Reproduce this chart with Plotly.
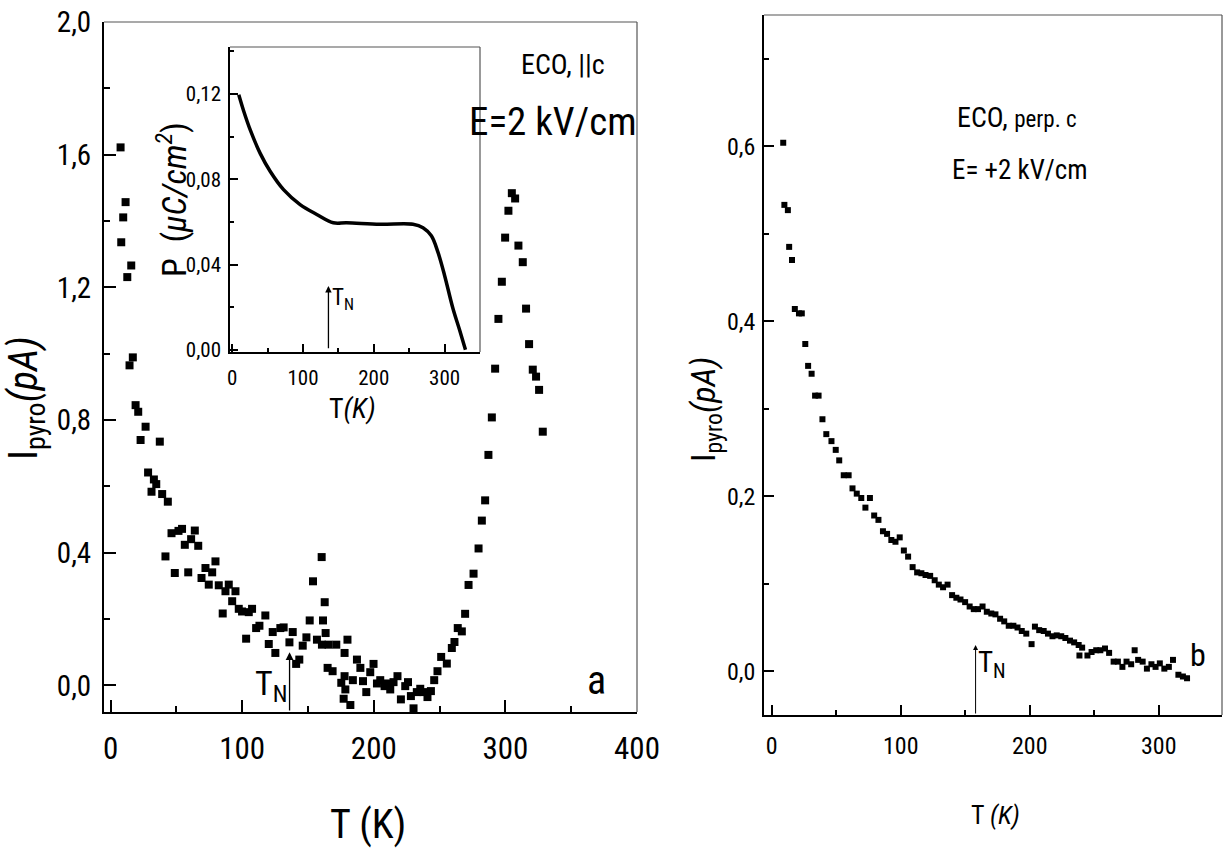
import plotly.graph_objects as go

# ---------------- data ----------------
# Panel a: pyroelectric current, E || c
T_a = [7.6, 8.1, 9.6, 11.4, 12.7, 15.7, 14.4, 16.9, 19.0, 21.0, 22.8, 26.6, 37.4, 28.5, 31.1, 32.9, 34.7,
       39.2, 43.5, 41.7, 46.3, 48.8, 51.6, 54.3, 56.4, 59.0, 61.2, 64.0, 66.6, 69.1, 72.1, 74.6, 77.2,
       79.7, 82.2, 85.2, 87.3, 89.8, 92.4, 94.9, 97.4, 99.9, 103.0, 105.0, 107.5, 110.6, 113.1, 117.6,
       120.2, 123.2, 125.2, 129.0, 131.5, 135.9, 138.4, 141.0, 143.4, 146.0, 148.8, 151.3, 153.8, 156.8,
       160.4, 160.6, 161.4, 162.7, 163.4, 164.9, 165.6, 168.7, 171.5, 175.3, 177.1, 177.8, 177.8, 178.4,
       180.0, 182.2, 184.1, 187.2, 189.8, 191.8, 194.3, 197.3, 199.8, 202.4, 204.9, 208.2, 210.5, 212.5,
       215.0, 218.0, 220.6, 223.9, 226.0, 228.2, 230.2, 232.7, 235.3, 237.8, 240.8, 243.4, 245.9, 248.4,
       251.2, 255.5, 259.3, 261.3, 263.8, 266.9, 269.4, 272.0, 275.8, 279.6, 282.1, 284.6, 287.1, 289.7,
       292.2, 294.7, 297.3, 299.8, 302.3, 304.9, 307.4, 309.9, 313.2, 315.7, 318.0, 320.8, 323.3, 325.6,
       328.4]
I_a = [1.622, 1.336, 1.411, 1.457, 1.231, 1.266, 0.965, 0.989, 0.845, 0.825, 0.740, 0.780, 0.735, 0.642,
       0.584, 0.621, 0.607, 0.577, 0.554, 0.389, 0.459, 0.339, 0.466, 0.472, 0.424, 0.341, 0.441, 0.467,
       0.421, 0.324, 0.354, 0.304, 0.341, 0.374, 0.302, 0.217, 0.284, 0.304, 0.254, 0.284, 0.231, 0.223,
       0.141, 0.221, 0.231, 0.173, 0.180, 0.211, 0.125, 0.161, 0.098, 0.173, 0.175, 0.130, 0.161, 0.065,
       0.078, 0.120, 0.145, 0.196, 0.314, 0.138, 0.387, 0.123, 0.196, 0.251, 0.158, 0.053, 0.123, 0.043,
       0.123, 0.008, -0.040, 0.098, 0.028, -0.012, 0.138, -0.059, 0.016, 0.078, 0.053, 0.013, -0.020,
       0.040, 0.065, 0.006, 0.016, -0.002, 0.006, -0.012, 0.010, 0.028, -0.042, -0.002, 0.010, -0.032,
       -0.069, -0.020, -0.010, -0.020, -0.035, -0.017, 0.016, 0.043, 0.086, 0.066, 0.113, 0.131, 0.173,
       0.163, 0.216, 0.303, 0.337, 0.413, 0.497, 0.558, 0.695, 0.808, 0.955, 1.105, 1.217, 1.350, 1.431,
       1.484, 1.468, 1.326, 1.276, 1.136, 1.029, 0.952, 0.931, 0.891, 0.765]

# Inset: polarization P(T)
T_ins = [9.4, 16.3, 25.7, 39.8, 53.9, 72.6, 96.0, 119.5, 142.9, 161.7, 208.6, 255.4, 269.5, 281.3,
         290.6, 300.0, 311.7, 321.1, 329.5]
P_ins = [0.1196, 0.112, 0.103, 0.092, 0.0836, 0.0751, 0.0681, 0.0635, 0.0596, 0.0596, 0.0589, 0.0589,
         0.0573, 0.0535, 0.0458, 0.0349, 0.0195, 0.0094, 0.0001]

# Panel b: pyroelectric current, E perp c
T_b = [8.9, 9.8, 12.5, 13.5, 15.7, 17.9, 21.1, 23.3, 26.0, 28.2, 30.9, 33.6, 36.3, 39.3, 42.3, 46.3, 49.6,
       52.3, 55.8, 59.6, 62.6, 65.9, 69.4, 72.6, 76.1, 79.4, 82.7, 86.2, 89.4, 92.7, 95.9, 99.2, 102.4,
       105.7, 109.2, 112.7, 116.0, 119.2, 122.8, 126.3, 129.5, 132.8, 136.3, 139.8, 143.1, 146.3, 149.9,
       153.4, 156.6, 159.9, 163.4, 166.7, 170.2, 173.4, 177.0, 180.2, 183.7, 187.3, 190.5, 193.8, 197.3,
       201.4, 204.0, 207.3, 210.8, 214.1, 217.6, 220.9, 224.4, 227.6, 231.2, 234.4, 237.9, 240.6, 238.5,
       244.7, 247.9, 251.5, 254.7, 258.3, 261.5, 265.0, 268.3, 271.8, 275.0, 278.6, 281.3, 284.0, 287.5,
       290.8, 294.3, 297.5, 300.8, 304.3, 307.8, 311.0, 315.2, 318.7, 321.9]
I_b = [0.604, 0.533, 0.527, 0.485, 0.470, 0.414, 0.409, 0.409, 0.374, 0.349, 0.340, 0.315, 0.315, 0.288,
       0.271, 0.263, 0.253, 0.241, 0.224, 0.224, 0.209, 0.203, 0.198, 0.187, 0.198, 0.178, 0.173, 0.160,
       0.157, 0.150, 0.148, 0.153, 0.138, 0.131, 0.119, 0.113, 0.112, 0.110, 0.109, 0.104, 0.099, 0.096,
       0.099, 0.087, 0.084, 0.082, 0.079, 0.074, 0.071, 0.071, 0.074, 0.068, 0.066, 0.065, 0.060, 0.057,
       0.052, 0.052, 0.050, 0.046, 0.043, 0.031, 0.051, 0.047, 0.046, 0.043, 0.040, 0.041, 0.040, 0.038,
       0.035, 0.033, 0.030, 0.027, 0.018, 0.018, 0.022, 0.024, 0.024, 0.026, 0.021, 0.011, 0.011, 0.005,
       0.011, 0.008, 0.024, 0.013, 0.011, 0.003, 0.008, 0.005, 0.009, 0.003, 0.005, 0.013, -0.004, -0.006,
       -0.008]

TN_a = 136
TN_b = 158

W, H = 1225, 850
FONT = "Roboto Condensed, Liberation Sans Narrow, Arial Narrow, Liberation Sans, Arial, sans-serif"

def px(x):
    return x / W

def py(y):
    return 1 - y / H

fig = go.Figure()

fig.add_trace(go.Scatter(x=T_a, y=I_a, mode="markers", xaxis="x", yaxis="y",
                         marker=dict(symbol="square", size=8, color="black"), showlegend=False))
fig.add_trace(go.Scatter(x=T_ins, y=P_ins, mode="lines", xaxis="x2", yaxis="y2",
                         line=dict(color="black", width=3.5, shape="spline"), showlegend=False))
fig.add_trace(go.Scatter(x=T_b, y=I_b, mode="markers", xaxis="x3", yaxis="y3",
                         marker=dict(symbol="square", size=6, color="black"), showlegend=False))

def ax(domain, rng, dtick, mdtick, fs, anchor, fmt=None, ticklen=12, mlen=6, lw=2, standoff=8):
    d = dict(domain=domain, range=rng, dtick=dtick, tick0=0, ticks="inside", ticklen=ticklen,
             tickwidth=1.5, tickcolor="black", showline=True, linecolor="black", linewidth=lw,
             mirror=False, showgrid=False, zeroline=False, anchor=anchor, automargin=False,
             ticklabelstandoff=standoff,
             tickfont=dict(family=FONT, size=fs, color="black"),
             minor=dict(dtick=mdtick, tick0=0, ticks="inside", ticklen=mlen, tickcolor="black",
                        tickwidth=1.5, showgrid=False))
    if fmt:
        d["tickformat"] = fmt
    return d

# domains (pixel boxes)
A = (104, 637, 22, 712)
B = (230, 480, 47, 352)
C = (764, 1222, 15, 715)

def dom(b):
    return [px(b[0]), px(b[1])], [py(b[3]), py(b[2])]

ax_a, ay_a = dom(A)
ax_b, ay_b = dom(B)
ax_c, ay_c = dom(C)

fig.update_layout(
    template="none",
    width=W, height=H, margin=dict(l=0, r=0, t=0, b=0, pad=0), autosize=False,
    paper_bgcolor="white", plot_bgcolor="white", separators=", ",
    xaxis=ax(ax_a, [-5, 400], 100, 50, 31, "y", standoff=8),
    yaxis=ax(ay_a, [-0.08, 2.0], 0.4, 0.2, 29, "x", fmt=".1f", standoff=5),
    xaxis2=ax(ax_b, [-3, 350], 100, 50, 21, "y2", ticklen=8, mlen=4, lw=1.5, standoff=6),
    yaxis2=ax(ay_b, [-0.001, 0.142], 0.04, 0.02, 21, "x2", fmt=".2f", ticklen=8, mlen=4, lw=1.5,
              standoff=3),
    xaxis3=ax(ax_c, [-6, 349], 100, 50, 24, "y3", ticklen=10, mlen=5, lw=1.5, standoff=8),
    yaxis3=ax(ay_c, [-0.05, 0.75], 0.2, 0.1, 24, "x3", fmt=".1f", ticklen=10, mlen=5, lw=1.5,
              standoff=2),
)

# top/right frame lines
shapes = []
for xr, yr in [("x domain", "y domain"), ("x2 domain", "y2 domain"), ("x3 domain", "y3 domain")]:
    shapes.append(dict(type="line", xref=xr, yref=yr, x0=0, x1=1, y0=1, y1=1,
                       line=dict(color="#555", width=1.2)))
    shapes.append(dict(type="line", xref=xr, yref=yr, x0=1, x1=1, y0=0, y1=1,
                       line=dict(color="#555", width=1.2)))
fig.update_layout(shapes=shapes)

ann = []

def txt(x, y, text, size, angle=0, xanchor="center", yanchor="middle"):
    ann.append(dict(x=px(x), y=py(y), xref="paper", yref="paper", text=text, showarrow=False,
                    textangle=angle, xanchor=xanchor, yanchor=yanchor,
                    font=dict(family=FONT, size=size, color="black")))

# panel a texts
txt(26, 398, "I<sub>pyro</sub><i>(pA)</i>", 40, angle=-90)
txt(368, 824, "T (K)", 40)
txt(563, 65, "ECO, ||c", 28)
txt(553, 122, "E=2 kV/cm", 39)
txt(596, 680, "a", 40)
# inset texts
txt(172, 200, "P&nbsp;&nbsp;(<i>μC/cm<sup>2</sup></i>)", 34, angle=-90)
txt(352, 408, "T<i>(K)</i>", 28)
# panel b texts
txt(705, 410, "I<sub>pyro</sub><i>(pA)</i>", 34, angle=-90)
txt(995, 815, "T <i>(K)</i>", 26)
txt(1017, 118, "ECO, <span style='font-size:23px'>perp. c</span>", 28)
txt(1020, 170, "E= +2 kV/cm", 27)
txt(1198, 655, "b", 32)

# T_N arrows
ann.append(dict(x=TN_a, y=0.10, ax=TN_a, ay=-0.08, xref="x", yref="y", axref="x", ayref="y",
                text="", showarrow=True, arrowhead=2, arrowsize=1.2, arrowwidth=1.3, arrowcolor="black"))
ann.append(dict(x=122, y=0.0, xref="x", yref="y", text="T<sub>N</sub>", showarrow=False,
                font=dict(family=FONT, size=34, color="black")))
ann.append(dict(x=TN_a, y=0.030, ax=TN_a, ay=0.0, xref="x2", yref="y2", axref="x2", ayref="y2",
                text="", showarrow=True, arrowhead=2, arrowsize=1, arrowwidth=1.3, arrowcolor="black"))
ann.append(dict(x=157, y=0.024, xref="x2", yref="y2", text="T<sub>N</sub>", showarrow=False,
                font=dict(family=FONT, size=23, color="black")))
ann.append(dict(x=TN_b, y=0.030, ax=TN_b, ay=-0.05, xref="x3", yref="y3", axref="x3", ayref="y3",
                text="", showarrow=True, arrowhead=2, arrowsize=1, arrowwidth=1, arrowcolor="black"))
ann.append(dict(x=171, y=0.008, xref="x3", yref="y3", text="T<sub>N</sub>", showarrow=False,
                font=dict(family=FONT, size=29, color="black")))

fig.update_layout(annotations=ann)

fig.write_html("out.html", config={"displayModeBar": False},
               post_script="document.body.style.margin='0';document.body.style.overflow='hidden';")
